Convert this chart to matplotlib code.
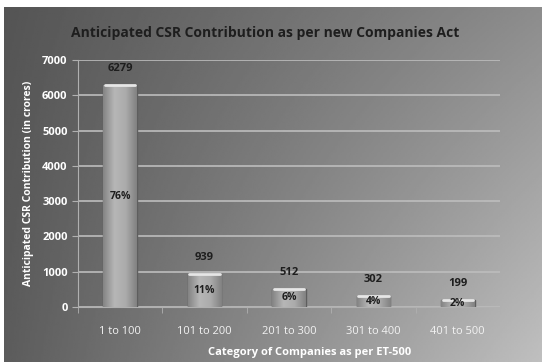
import numpy as np
import matplotlib.pyplot as plt
from matplotlib.colors import LinearSegmentedColormap

categories = ["1 to 100", "101 to 200", "201 to 300", "301 to 400", "401 to 500"]
contribution = [6279, 939, 512, 302, 199]
share = ["76%", "11%", "6%", "4%", "2%"]

plt.rcParams['font.family'] = ['Open Sans', 'DejaVu Sans']

fig = plt.figure(figsize=(5.42, 3.62), dpi=100)
fig.patch.set_facecolor('white')

# gradient background (dark top-left to light bottom-right)
bg = fig.add_axes([4 / 542, 0, 1 - 4 / 542, 355 / 362], zorder=-1)
xx, yy = np.meshgrid(np.linspace(0, 1, 300), np.linspace(0, 1, 200))
grad = 0.33 + 0.22 * xx + 0.17 * xx * yy + 0.03 * yy
bg.imshow(grad, cmap='gray', vmin=0, vmax=1, aspect='auto', extent=[0, 1, 0, 1], origin='upper')
bg.axis('off')

ax = fig.add_axes([78 / 542, 55 / 362, 422 / 542, 247 / 362])
ax.patch.set_alpha(0)

x = np.arange(len(categories))
bars = ax.bar(x, contribution, width=0.4, color='#a4a4a4', edgecolor='#5e5e5e', linewidth=1, zorder=3)

# shade each bar like a rounded column
shade = LinearSegmentedColormap.from_list('shade', ['#858585', '#b6b6b6', '#acacac', '#828282'])
for b in bars:
    x0, y0 = b.get_x(), b.get_y()
    w, h = b.get_width(), b.get_height()
    im = ax.imshow(np.linspace(0, 1, 50).reshape(1, -1), cmap=shade, aspect='auto',
                   extent=[x0, x0 + w, y0, y0 + h], zorder=3.5)
    im.set_clip_path(b)
    # light top cap
    ax.plot([x0 + w * 0.05, x0 + w * 0.95], [y0 + h, y0 + h], color='#e6e6e6', lw=2,
            zorder=4, solid_capstyle='round')

for xi, v, p in zip(x, contribution, share):
    ax.annotate(str(v), (xi, v), xytext=(0, 8), textcoords='offset points',
                ha='center', va='bottom', fontsize=8, fontweight='bold', color='#1e1e1e')
    ax.text(xi, v / 2, p, ha='center', va='center', fontsize=7.5, fontweight='bold',
            color='#1e1e1e', zorder=5)

ax.set_xlim(-0.5, len(categories) - 0.5)
ax.set_ylim(0, 7000)
ax.set_yticks(range(0, 7001, 1000))
ax.set_xticks(x)
ax.set_xticklabels(categories)
ax.yaxis.grid(True, color='#bdbdbd', lw=1.2, zorder=0)
ax.set_axisbelow(True)

for s in ['top', 'right']:
    ax.spines[s].set_visible(False)
for s in ['left', 'bottom']:
    ax.spines[s].set_color('#b0b0b0')
ax.tick_params(axis='y', colors='#b0b0b0', labelcolor='white', length=4, labelsize=8)
ax.tick_params(axis='x', length=0, pad=14, labelcolor='#f2f2f2', labelsize=8)
ax.set_xticks(np.arange(-0.5, len(categories), 1), minor=True)
ax.tick_params(axis='x', which='minor', length=4, color='#b0b0b0')
for lab in ax.get_yticklabels():
    lab.set_fontweight('bold')

ax.set_ylabel("Anticipated CSR Contribution (in crores)", color='white', fontsize=7.5,
              fontweight='bold', labelpad=6)
ax.set_xlabel("Category of Companies as per ET-500", color='white', fontsize=8,
              fontweight='bold')
ax.xaxis.set_label_coords(0.55, -0.16)
fig.text(0.49, 0.909, "Anticipated CSR Contribution as per new Companies Act", ha='center',
         va='center', fontsize=10, fontweight='bold', color='#1e1e1e')

fig.savefig('out.png', dpi=100)
